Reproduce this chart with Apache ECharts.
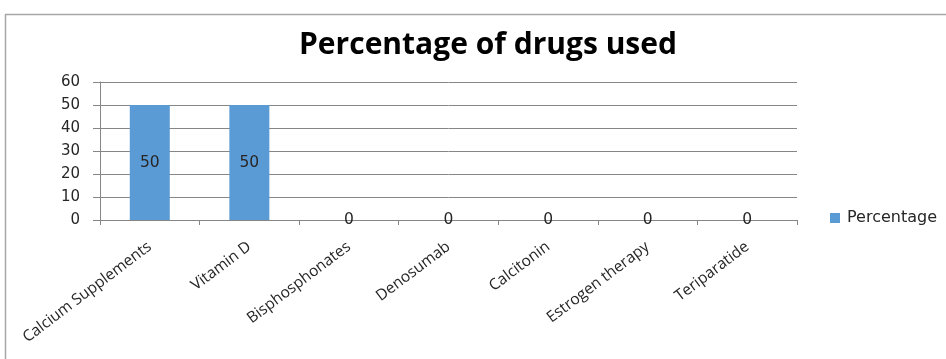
<!DOCTYPE html>
<html>
<head>
<meta charset="utf-8">
<script src="https://cdn.jsdelivr.net/npm/echarts@6/dist/echarts.min.js"></script>
<style>
  html, body { margin: 0; padding: 0; background: #ffffff; }
  #chart { width: 946px; height: 359px; }
</style>
</head>
<body>
<div id="chart"></div>
<script>
// Drug categories and the share of each (percent)
const categories = ['Calcium Supplements', 'Vitamin D', 'Bisphosphonates', 'Denosumab', 'Calcitonin', 'Estrogen therapy', 'Teriparatide'];
const percentage = [50, 50, 0, 0, 0, 0, 0];
const yTicks = { min: 0, max: 60, interval: 10 };

const chart = echarts.init(document.getElementById('chart'));
chart.setOption({
  animation: false,
  backgroundColor: '#ffffff',
  title: {
    text: 'Percentage of drugs used',
    left: 483,
    textAlign: 'center',
    top: 25,
    textStyle: { fontFamily: 'Open Sans', fontWeight: 'bold', fontSize: 30, color: '#000000' }
  },
  graphic: [{
    type: 'rect',
    shape: { x: 5.5, y: 14.5, width: 960, height: 400 },
    style: { fill: 'none', stroke: '#a6a6a6', lineWidth: 1.5 },
    silent: true,
    z: -1
  }],
  legend: {
    left: 830,
    top: 210,
    padding: 0,
    itemWidth: 10,
    itemHeight: 10,
    itemGap: 10,
    icon: 'rect',
    textStyle: { fontFamily: 'DejaVu Sans', fontSize: 16, color: '#262626', padding: [0, 0, 0, 2] },
    data: ['Percentage']
  },
  grid: { left: 100, right: 149, top: 82, bottom: 139 },
  xAxis: {
    type: 'category',
    data: categories,
    axisLine: { lineStyle: { color: '#868686', width: 1 } },
    axisTick: { show: true, length: 5, alignWithLabel: false, lineStyle: { color: '#868686' } },
    axisLabel: {
      interval: 0,
      rotate: 37,
      margin: 25,
      fontFamily: 'Open Sans',
      fontSize: 15.5,
      color: '#262626'
    }
  },
  yAxis: {
    type: 'value',
    min: yTicks.min,
    max: yTicks.max,
    interval: yTicks.interval,
    axisLine: { show: true, lineStyle: { color: '#868686', width: 1 } },
    axisTick: { show: true, length: 7, lineStyle: { color: '#868686' } },
    axisLabel: { fontFamily: 'DejaVu Sans', fontSize: 15, color: '#262626', margin: 20 },
    splitLine: { lineStyle: { color: '#868686', width: 1 } }
  },
  series: [{
    name: 'Percentage',
    type: 'bar',
    data: percentage,
    barWidth: 40,
    itemStyle: { color: '#5b9bd5' },
    label: {
      show: true,
      position: 'inside',
      fontFamily: 'DejaVu Sans',
      fontSize: 15.5,
      color: '#262626'
    }
  }]
});
</script>
</body>
</html>
